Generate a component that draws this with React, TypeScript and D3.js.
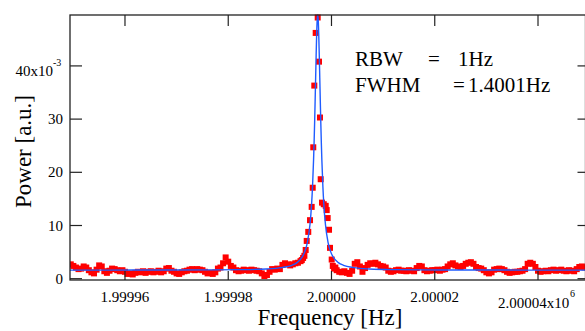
import React from "react";
import * as d3 from "d3";

// Frequency offsets are in Hz relative to 2.00000 MHz; power in units of 1e-3 (a.u.)
const xTickOffsetsHz = [-40, -20, 0, 20, 40];
const xTickLabels = ["1.99996", "1.99998", "2.00000", "2.00002", "2.00004"];
const yTickValues = [0, 10, 20, 30, 40];
const yTickLabels = ["0", "10", "20", "30", "40"];

const baselineLeft: [number, number][] = [
  [-50.5, 2.7], [-50, 2.4], [-49.5, 2.1], [-49, 1.8], [-48.5, 1.9], [-48, 2.3], [-47.5, 2.1], [-47, 1.6],
  [-46.5, 1.2], [-46, 1.0], [-45.5, 1.7], [-45, 2.5], [-44.5, 2.3], [-44, 1.4], [-43.5, 1.1], [-43, 1.5],
  [-42.5, 1.9], [-42, 1.8], [-41.5, 1.6], [-41, 1.4], [-40.5, 1.6], [-40, 1.3], [-39.5, 0.9], [-39, 1.0],
  [-38.5, 0.8], [-38, 1.1], [-37.5, 1.3], [-37, 1.2], [-36.5, 1.4], [-36, 1.1], [-35.5, 1.3], [-35, 1.4],
  [-34.5, 1.2], [-34, 1.3], [-33.5, 1.5], [-33, 1.2], [-32.5, 1.4], [-32, 1.9], [-31.5, 2.0], [-31, 1.5],
  [-30.5, 1.3], [-30, 1.0], [-29.5, 0.9], [-29, 1.2], [-28.5, 1.4], [-28, 1.5], [-27.5, 1.7], [-27, 1.8],
  [-26.5, 1.6], [-26, 1.8], [-25.5, 1.7], [-25, 1.6], [-24.5, 1.3], [-24, 1.0], [-23.5, 1.1], [-23, 0.9],
  [-22.5, 1.2], [-22, 1.9], [-21.5, 2.1], [-21, 2.9], [-20.5, 4.0], [-20, 3.2], [-19.5, 2.4], [-19, 2.1],
  [-18.5, 1.6], [-18, 1.4], [-17.5, 1.5], [-17, 1.7], [-16.5, 1.6], [-16, 1.5], [-15.5, 1.7], [-15, 1.6],
  [-14.5, 1.5], [-14, 1.4], [-13.5, 1.0], [-13, 0.5], [-12.5, 0.7], [-12, 1.3], [-11.5, 1.8], [-11, 1.7],
  [-10.5, 1.9], [-10, 1.8], [-9.5, 2.6], [-9, 2.9], [-8.5, 2.7], [-8, 2.5], [-7.5, 2.7], [-7, 2.9],
  [-6.5, 3.0], [-6, 3.3], [-5.75, 3.5], [-5.5, 3.9], [-5.25, 4.3],
];

const peakPoints: [number, number][] = [
  [-5.0, 5.4], [-4.8, 7.1], [-4.5, 8.8], [-4.16, 11.0], [-3.84, 13.5], [-3.64, 17.1], [-3.53, 24.7],
  [-3.33, 36.3], [-3.06, 46.2], [-2.67, 49.1], [-2.42, 40.8], [-2.23, 30.3], [-2.09, 18.7], [-1.84, 14.3],
  [-1.5, 14.0], [-1.12, 13.7], [-0.93, 12.9], [-0.74, 11.4], [-0.48, 9.2], [-0.29, 5.8], [0.04, 3.6],
];

const baselineRight: [number, number][] = [
  [0.25, 2.4], [0.5, 1.9], [0.75, 2.1], [1.0, 1.6], [1.5, 1.3], [2.0, 1.2], [2.5, 1.4], [3.0, 1.1],
  [3.5, 0.9], [4.0, 1.5], [4.5, 2.8], [5.0, 3.1], [5.5, 2.3], [6.0, 1.3], [6.5, 2.0], [7.0, 2.6],
  [7.5, 2.9], [8.0, 2.8], [8.5, 3.0], [9.0, 2.7], [9.5, 2.4], [10.0, 2.3], [10.5, 2.1], [11.0, 1.5],
  [11.5, 1.3], [12.0, 1.4], [12.5, 1.6], [13.0, 1.7], [13.5, 1.5], [14.0, 1.5], [14.5, 1.4], [15.0, 1.6],
  [15.5, 1.5], [16.0, 1.4], [16.5, 2.0], [17.0, 2.4], [17.5, 2.3], [18.0, 1.6], [18.5, 1.4], [19.0, 1.5],
  [19.5, 1.6], [20.0, 1.6], [20.5, 1.7], [21.0, 1.5], [21.5, 1.7], [22.0, 1.8], [22.5, 2.3], [23.0, 2.7],
  [23.5, 2.9], [24.0, 2.5], [24.5, 2.3], [25.0, 2.2], [25.5, 2.4], [26.0, 2.8], [26.5, 3.0], [27.0, 3.1],
  [27.5, 2.8], [28.0, 2.2], [28.5, 2.0], [29.0, 1.9], [29.5, 1.6], [30.0, 1.2], [30.5, 1.0], [31.0, 1.2],
  [31.5, 1.7], [32.0, 1.8], [32.5, 1.9], [33.0, 1.8], [33.5, 1.6], [34.0, 1.3], [34.5, 1.1], [35.0, 1.2],
  [35.5, 1.3], [36.0, 1.3], [36.5, 1.4], [37.0, 1.5], [37.5, 1.8], [38.0, 2.8], [38.5, 3.0], [39.0, 2.8],
  [39.5, 2.2], [40.0, 1.5], [40.5, 1.3], [41.0, 1.4], [41.5, 1.5], [42.0, 1.4], [42.5, 1.6], [43.0, 1.7],
  [43.5, 1.5], [44.0, 1.6], [44.5, 1.7], [45.0, 1.5], [45.5, 1.4], [46.0, 1.6], [46.5, 1.5], [47.0, 1.4],
  [47.5, 1.8], [48.0, 2.2], [48.5, 2.3], [49.0, 2.1],
];

// Lorentzian fit curve, read as offsets (Hz) from the peak centre
const fitCentreHz = -2.67;
const fitDx = [-50, -40, -30, -20, -15, -10, -7, -5, -4, -3, -2.5, -2, -1.5, -1.2, -1, -0.8, -0.7, -0.6, -0.5, -0.4, -0.3, -0.2, -0.1,
  0, 0.1, 0.2, 0.3, 0.4, 0.5, 0.6, 0.7, 0.8, 1, 1.2, 1.5, 2, 2.5, 3, 4, 5, 7, 10, 15, 20, 30, 40, 55];
const fitPower = [1.61, 1.62, 1.63, 1.66, 1.70, 1.83, 2.08, 2.52, 3.03, 4.08, 5.09, 6.84, 10.18, 13.79, 17.39, 22.41, 25.6, 29.27, 33.38, 37.78, 42.15, 45.98, 48.64,
  49.6, 48.64, 45.98, 42.15, 37.78, 33.38, 29.27, 25.6, 22.41, 17.39, 13.79, 10.18, 6.84, 5.09, 4.08, 3.03, 2.52, 2.08, 1.83, 1.70, 1.66, 1.63, 1.62, 1.61];

const FONT = "Liberation Serif, DejaVu Serif, Times New Roman, serif";
const TXT = "#000";
const ts = (size: number): React.CSSProperties => ({ fontFamily: FONT, fontSize: size + "px", fill: TXT });

export default function App() {
  const L = 70, R = 585.5, T = 15, B = 280;
  const x = d3.scaleLinear().domain([-50.65, 49.2]).range([L, R]);
  const y = d3.scaleLinear().domain([-0.244, 49.57]).range([B, T]);
  const data = [...baselineLeft, ...peakPoints, ...baselineRight];
  const fit = fitDx.map((d, i) => [fitCentreHz + d, fitPower[i]] as [number, number]);
  const line = d3.line<[number, number]>().x(d => x(d[0])).y(d => y(d[1])).curve(d3.curveMonotoneX);
  const m = 6;

  return (
    <svg width={585} height={331} style={{ position: "absolute", left: 0, top: 0, background: "#fff" }}>
      <defs>
        <clipPath id="pc"><rect x={L} y={T - 3} width={R - L} height={B - T + 3} /></clipPath>
      </defs>
      <g clipPath="url(#pc)">
        {data.map((d, i) => (
          <rect key={i} x={x(d[0]) - m / 2} y={y(d[1]) - m / 2} width={m} height={m} fill="#ff0000" />
        ))}
        <path d={line(fit) || ""} fill="none" stroke="#1f5cff" strokeWidth={1.4} />
      </g>
      <rect x={L} y={T} width={R - L} height={B - T} fill="none" stroke="#222" strokeWidth={1.3} />
      {xTickOffsetsHz.map((t, i) => (
        <g key={i}>
          <line x1={x(t)} x2={x(t)} y1={B} y2={B - 9} stroke="#222" strokeWidth={1.2} />
          <line x1={x(t)} x2={x(t)} y1={T} y2={T + 11} stroke="#222" strokeWidth={1.2} />
        </g>
      ))}
      {xTickOffsetsHz.slice(0, 4).map((t, i) => (
        <text key={i} x={x(t)} y={301.5} textAnchor="middle" style={ts(15)}>{xTickLabels[i]}</text>
      ))}
      <text x={498} y={308} style={ts(15)}>{xTickLabels[4] + "x10"}</text>
      <text x={570} y={297} style={ts(10)}>6</text>
      {yTickValues.map((t, i) => (
        <g key={i}>
          <line x1={L} x2={L + 12} y1={y(t)} y2={y(t)} stroke="#222" strokeWidth={1.2} />
          <line x1={R} x2={R - 8} y1={y(t)} y2={y(t)} stroke="#222" strokeWidth={1.2} />
        </g>
      ))}
      {yTickValues.slice(0, 4).map((t, i) => (
        <text key={i} x={63} y={y(t) + 5} textAnchor="end" style={ts(15)}>{yTickLabels[i]}</text>
      ))}
      <text x={53} y={76} textAnchor="end" style={ts(15)}>{yTickLabels[4] + "x10"}</text>
      <text x={53} y={66} style={ts(10)}>-3</text>
      <text x={330} y={325} textAnchor="middle" style={ts(23)}>Frequency [Hz]</text>
      <text transform="translate(31,151.5) rotate(-90)" textAnchor="middle" style={ts(23)}>Power [a.u.]</text>
      <text x={355} y={66} style={ts(21)}>RBW</text>
      <text x={428} y={66} style={ts(21)}>=</text>
      <text x={458} y={66} style={ts(21)}>1Hz</text>
      <text x={355} y={92} style={ts(21)}>FWHM</text>
      <text x={453} y={92} style={ts(21)}>=</text>
      <text x={468} y={92} style={ts(21)}>1.4001Hz</text>
    </svg>
  );
}
